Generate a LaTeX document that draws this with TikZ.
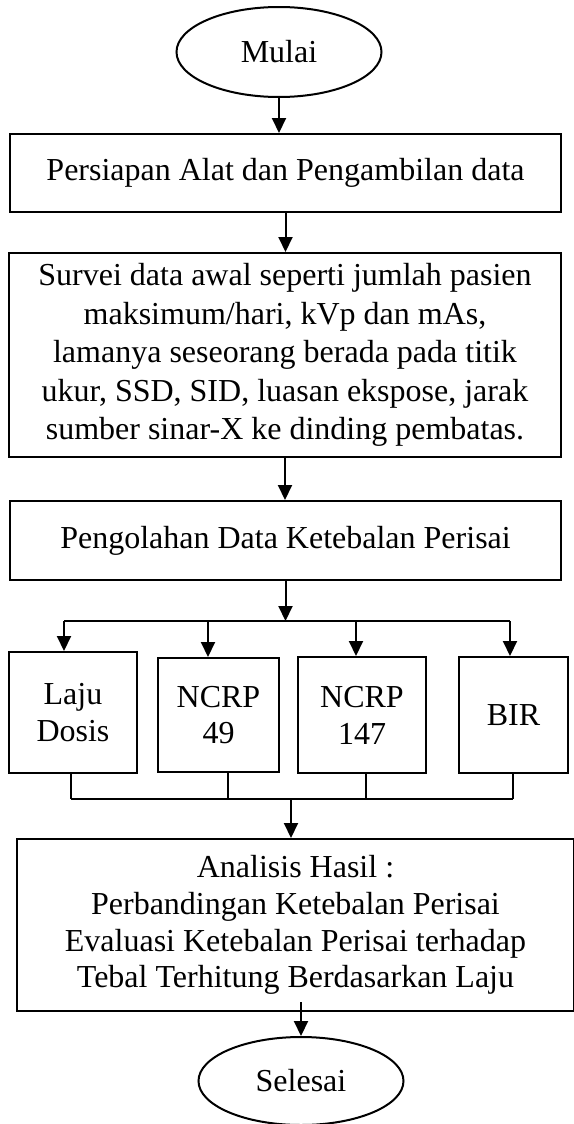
\documentclass[tikz,border=0pt]{standalone}
\usepackage{fontspec}
\setmainfont{Liberation Serif}
\usetikzlibrary{shapes.geometric,arrows.meta}

\begin{document}
\begin{tikzpicture}[x=0.5pt,y=-0.5pt,>={Triangle[width=7pt,length=7.5pt]},
    font=\fontsize{16}{18.4}\selectfont,
    box/.style={draw,rectangle,line width=1pt,inner sep=0pt,align=center},
    term/.style={draw,ellipse,line width=1pt,inner sep=0pt},
    arr/.style={->,line width=1pt},
    link/.style={line width=0.9pt}]
\useasboundingbox (0,0) rectangle (573,1124);

%Start, the process boxes and the end
    \node[term,minimum width=102.5pt,minimum height=45pt] (mulai) at (279,52) {Mulai};
    \node[box,minimum width=275.5pt,minimum height=39pt] (persiapan) at (285.5,173) {Persiapan Alat dan Pengambilan data};
    \node[box,minimum width=276pt,minimum height=102pt,font=\fontsize{16}{19.2}\selectfont] (survei) at (285,355)
        {Survei data awal seperti jumlah pasien\\ maksimum/hari, kVp dan mAs,\\ lamanya seseorang berada pada titik\\ ukur, SSD, SID, luasan ekspose, jarak\\ sumber sinar-X ke dinding pembatas.};
    \node[box,minimum width=275.5pt,minimum height=39.5pt] (olah) at (285.5,540.5) {Pengolahan Data Ketebalan Perisai};
    \node[box,minimum width=64pt,minimum height=60.5pt] (laju) at (73,712.5) {Laju\\ Dosis};
    \node[box,minimum width=60.5pt,minimum height=57pt] (ncrpa) at (218.5,715) {NCRP\\ 49};
    \node[box,minimum width=64pt,minimum height=58pt] (ncrpb) at (362,715) {NCRP\\ 147};
    \node[box,minimum width=54.5pt,minimum height=58pt] (bir) at (513.5,715) {BIR};
    \node[box,minimum width=278.5pt,minimum height=86pt] (analisis) at (295.5,925)
        {Analisis Hasil :\\ Perbandingan Ketebalan Perisai\\ Evaluasi Ketebalan Perisai terhadap\\ Tebal Terhitung Berdasarkan Laju};
    \node[term,minimum width=102.5pt,minimum height=44pt] (selesai) at (301,1081) {Selesai};

%Straight arrows down the chart
    \draw [arr] (mulai) -- (mulai |- persiapan.north);
    \draw [arr] (persiapan.south) -- (persiapan.south |- survei.north);
    \draw [arr] (survei.south) -- (survei.south |- olah.north);

%Split into the four methods
    \coordinate (split) at (285,621);
    \draw [arr] (olah.south) -- (olah.south |- split);
    \foreach \x/\n in {64/laju,208/ncrpa,356/ncrpb,510/bir}
        {
        \coordinate (d\n) at (\x,621);
        \draw [arr] (d\n) -- (d\n |- \n.north);
    }
    \draw [link] (dlaju) -- (dbir);

%Join the four methods again
    \foreach \x/\n in {71/laju,228/ncrpa,366/ncrpb,513/bir}
        {
        \coordinate (m\n) at (\x,799);
        \draw [link] (m\n |- \n.south) -- (m\n);
    }
    \draw [link] (mlaju) -- (mbir);
    \coordinate (join) at (291,799);
    \draw [arr] (join) -- (join |- analisis.north);
    \draw [arr] ([yshift=5pt]analisis.south -| selesai.north) -- (selesai.north);
\end{tikzpicture}
\end{document}
